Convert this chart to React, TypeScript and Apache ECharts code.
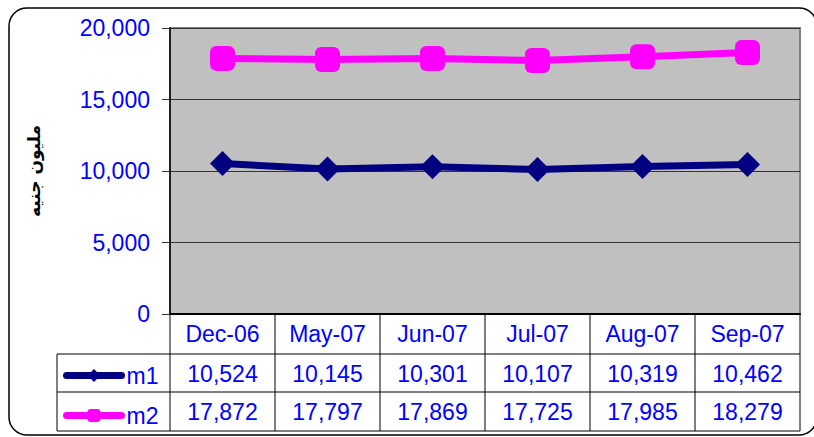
import React, { useEffect, useRef } from "react";
import * as echarts from "echarts";

const categories = ["Dec-06", "May-07", "Jun-07", "Jul-07", "Aug-07", "Sep-07"];
const seriesNames = ["m1", "m2"];
const m1Values = [10524, 10145, 10301, 10107, 10319, 10462];
const m2Values = [17872, 17797, 17869, 17725, 17985, 18279];
const yAxisTitle = "مليون جنيه";
const yMin = 0;
const yMax = 20000;
const yInterval = 5000;

const fmt = (v: number) => v.toLocaleString("en-US");

export default function App() {
  const ref = useRef<HTMLDivElement>(null);
  useEffect(() => {
    if (!ref.current) return;
    const chart = echarts.init(ref.current, null, { renderer: "svg" });
    const font = "Liberation Sans, Arial, sans-serif";
    const blue = "#0000FF";
    const fs = 23;
    const gL = 170, gT = 28, gW = 630, gH = 286;
    const gB = gT + gH;
    const colW = gW / categories.length;
    const rows = [gB + 40, gB + 78, gB + 117];
    const tableLeft = 57;
    const graphics: any[] = [
      {
        type: "rect",
        shape: { x: 9, y: 8, width: 808, height: 427, r: 18 },
        style: { fill: "none", stroke: "#000", lineWidth: 1.5 },
        z: 0,
      },
    ];
    for (let k = 0; k <= categories.length; k++) {
      graphics.push({
        type: "line",
        shape: { x1: gL + colW * k, y1: gB, x2: gL + colW * k, y2: rows[2] },
        style: { stroke: "#000", lineWidth: 1 },
      });
    }
    rows.forEach((y) =>
      graphics.push({
        type: "line",
        shape: { x1: tableLeft, y1: y, x2: gL + gW, y2: y },
        style: { stroke: "#000", lineWidth: 1 },
      })
    );
    graphics.push({
      type: "line",
      shape: { x1: tableLeft, y1: rows[0], x2: tableLeft, y2: rows[2] },
      style: { stroke: "#000", lineWidth: 1 },
    });

    const valueAxis = (data: string[], offset: number) => ({
      type: "category",
      data,
      position: "bottom",
      offset,
      axisLine: { show: false },
      axisTick: { show: false },
      axisLabel: { color: blue, fontSize: fs, fontFamily: font, margin: 8, interval: 0 },
    });

    chart.setOption({
      animation: false,
      grid: {
        left: gL,
        top: gT,
        width: gW,
        height: gH,
        show: true,
        backgroundColor: "#C0C0C0",
        borderColor: "#808080",
        borderWidth: 2,
      },
      legend: {
        data: seriesNames,
        orient: "vertical",
        left: 63,
        top: 364,
        itemWidth: 55,
        itemHeight: 16,
        itemGap: 17,
        padding: 0,
        lineStyle: { width: 7, cap: "round" },
        textStyle: { color: blue, fontSize: fs, fontFamily: font },
      },
      xAxis: [
        {
          type: "category",
          data: categories,
          axisLine: { show: true, lineStyle: { color: "#000", width: 2 } },
          axisTick: { show: false },
          axisLabel: { color: blue, fontSize: fs, fontFamily: font, margin: 8, interval: 0 },
        },
        valueAxis(m1Values.map(fmt), 40),
        valueAxis(m2Values.map(fmt), 78),
      ],
      yAxis: {
        type: "value",
        min: yMin,
        max: yMax,
        interval: yInterval,
        name: yAxisTitle,
        nameLocation: "middle",
        nameGap: 128,
        nameTextStyle: { color: "#000", fontSize: 17, fontWeight: "bold", fontFamily: "DejaVu Sans" },
        axisLine: { show: true, lineStyle: { color: "#000", width: 1.5 } },
        axisTick: { show: true, length: 8, lineStyle: { color: "#333" } },
        axisLabel: {
          color: blue,
          fontSize: fs,
          fontFamily: font,
          margin: 20,
          formatter: (v: number) => fmt(v),
        },
        splitLine: { show: true, lineStyle: { color: "#333", width: 1 } },
      },
      series: [
        {
          name: seriesNames[0],
          type: "line",
          data: m1Values,
          symbol: "diamond",
          symbolSize: 25,
          itemStyle: { color: "#000080" },
          lineStyle: { color: "#000080", width: 7, cap: "round" },
        },
        {
          name: seriesNames[1],
          type: "line",
          data: m2Values,
          symbol: "roundRect",
          symbolSize: 25,
          itemStyle: { color: "#FF00FF" },
          lineStyle: { color: "#FF00FF", width: 7, cap: "round" },
        },
      ],
      graphic: graphics,
    });
    return () => chart.dispose();
  }, []);
  return (
    <div
      ref={ref}
      style={{ position: "absolute", left: 0, top: 0, width: 814, height: 437, background: "#fff" }}
    />
  );
}
